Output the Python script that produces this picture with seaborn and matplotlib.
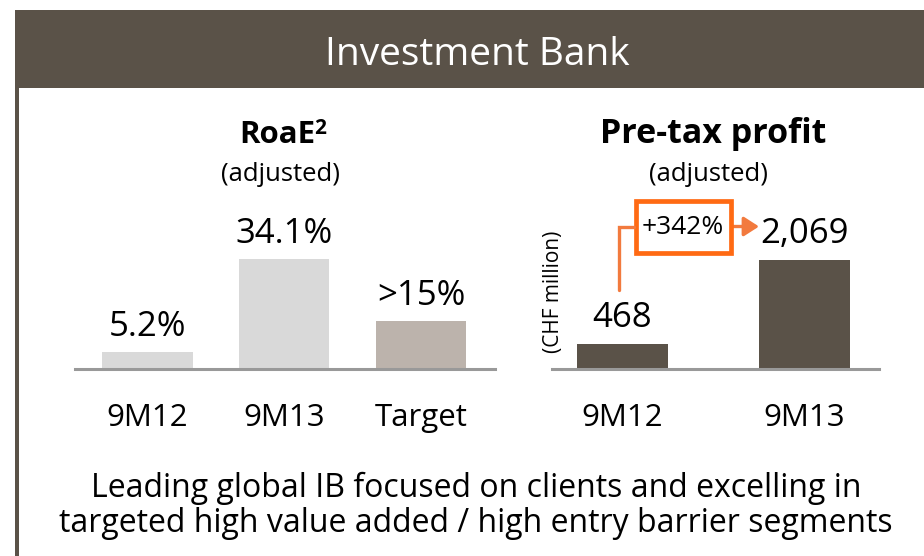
import matplotlib
matplotlib.use("Agg")
import matplotlib.pyplot as plt
import seaborn as sns
import pandas as pd
from matplotlib.patches import Rectangle, FancyArrowPatch
from matplotlib.lines import Line2D

# ---- data ----
roae_cats = ["9M12", "9M13", "Target"]
roae_vals = [5.2, 34.1, 15.0]
roae_labels = ["5.2%", "34.1%", ">15%"]
roae_colors = ["#D9D9D9", "#D9D9D9", "#BCB3AC"]

profit_cats = ["9M12", "9M13"]
profit_vals = [468, 2069]
profit_labels = ["468", "2,069"]
profit_colors = ["#5A5248", "#5A5248"]

growth_label = "+342%"
header_title = "Investment Bank"
footer_lines = ["Leading global IB focused on clients and excelling in",
                "targeted high value added / high entry barrier segments"]

sns.set_theme(style="white")
plt.rcParams["font.family"] = ["Open Sans", "DejaVu Sans"]
plt.rcParams["text.color"] = "black"
plt.rcParams["xtick.color"] = "black"
plt.rcParams["axes.labelcolor"] = "black"

W, H = 924, 556
fig = plt.figure(figsize=(W / 100, H / 100), dpi=100)
fig.patch.set_facecolor("white")


def px(x, y):
    return (x / W, 1 - y / H)


BROWN = "#5A5248"
ORANGE_BOX = "#FF6A13"
ORANGE_LINE = "#F27A3E"

# header band and left border
fig.patches.append(Rectangle(px(15, 88), (W - 15) / W, 78 / H,
                             transform=fig.transFigure, color=BROWN, lw=0))
fig.patches.append(Rectangle(px(15, H), 4 / W, (H - 88) / H,
                             transform=fig.transFigure, color=BROWN, lw=0))
fig.text(*px(477, 65), header_title, color="white", fontsize=28,
         ha="center", va="baseline")

BASE_Y = 368.5
AX_H = 128


def make_axes(left_px, width_px):
    return fig.add_axes([left_px / W, 1 - BASE_Y / H, width_px / W, AX_H / H])


# ---- left chart: RoaE ----
ax1 = make_axes(75, 420)
df1 = pd.DataFrame({"cat": roae_cats, "val": roae_vals})
sns.barplot(data=df1, x="cat", y="val", hue="cat", palette=roae_colors,
            order=roae_cats, hue_order=roae_cats, legend=False, width=0.66,
            saturation=1, ax=ax1, linewidth=0)
ax1.set_ylim(0, 40)
ax1.set_xlim(-0.53, 2.54)
for i, (v, lab) in enumerate(zip(roae_vals, roae_labels)):
    ax1.annotate(lab, (i, v), xytext=(0, 11.5), textcoords="offset points",
                 ha="center", va="baseline", fontsize=25, color="black")

# ---- right chart: Pre-tax profit ----
ax2 = make_axes(552, 327)
df2 = pd.DataFrame({"cat": profit_cats, "val": profit_vals})
sns.barplot(data=df2, x="cat", y="val", hue="cat", palette=profit_colors,
            order=profit_cats, hue_order=profit_cats, legend=False, width=0.5,
            saturation=1, ax=ax2, linewidth=0)
ax2.set_ylim(0, 2430)
ax2.set_xlim(-0.387, 1.409)
for i, (v, lab) in enumerate(zip(profit_vals, profit_labels)):
    ax2.annotate(lab, (i, v), xytext=(0, 12), textcoords="offset points",
                 ha="center", va="baseline", fontsize=25, color="black")

for ax in (ax1, ax2):
    ax.set_xlabel("")
    ax.set_ylabel("")
    ax.set_yticks([])
    for s in ("left", "right", "top"):
        ax.spines[s].set_visible(False)
    ax.spines["bottom"].set_color("#999999")
    ax.spines["bottom"].set_linewidth(2.2)
    ax.tick_params(axis="x", length=0, pad=25, labelsize=22.5, labelcolor="black")
    ax.set_facecolor("none")

# titles
fig.text(*px(315, 143), "RoaE", fontsize=22.5, fontweight="bold",
         ha="right", va="baseline", color="black")
fig.text(*px(314, 134), "2", fontsize=15, fontweight="bold",
         ha="left", va="baseline", color="black")
fig.text(*px(281, 181), "(adjusted)", fontsize=18.5, ha="center", va="baseline")
fig.text(*px(713, 143), "Pre-tax profit", fontsize=24.5, fontweight="bold",
         ha="center", va="baseline", color="black")
fig.text(*px(709, 181), "(adjusted)", fontsize=18.5, ha="center", va="baseline")

# unit label
fig.text(*px(553, 292), "(CHF million)", fontsize=15, rotation=90,
         ha="center", va="center")

# growth annotation
fig.add_artist(Line2D([619 / W, 619 / W, 634 / W],
                      [1 - 290 / H, 1 - 226.5 / H, 1 - 226.5 / H],
                      transform=fig.transFigure, color=ORANGE_LINE, lw=2.4,
                      solid_joinstyle="miter"))
fig.patches.append(Rectangle(px(635.5, 253.5), 95 / W, 52 / H,
                             transform=fig.transFigure, facecolor="white",
                             edgecolor=ORANGE_BOX, lw=3.4))
fig.text(*px(683, 228), growth_label, fontsize=19, ha="center", va="center")
fig.add_artist(FancyArrowPatch(px(732, 226.5), px(759, 226.5),
                               transform=fig.transFigure,
                               arrowstyle="-|>,head_length=0.7,head_width=0.45",
                               mutation_scale=13, color=ORANGE_LINE, lw=2.4,
                               shrinkA=0, shrinkB=0))

# footer
fig.text(*px(476, 497), footer_lines[0], fontsize=23, ha="center", va="baseline")
fig.text(*px(476, 532), footer_lines[1], fontsize=23, ha="center", va="baseline")

fig.savefig("out.png", dpi=100, facecolor="white")
